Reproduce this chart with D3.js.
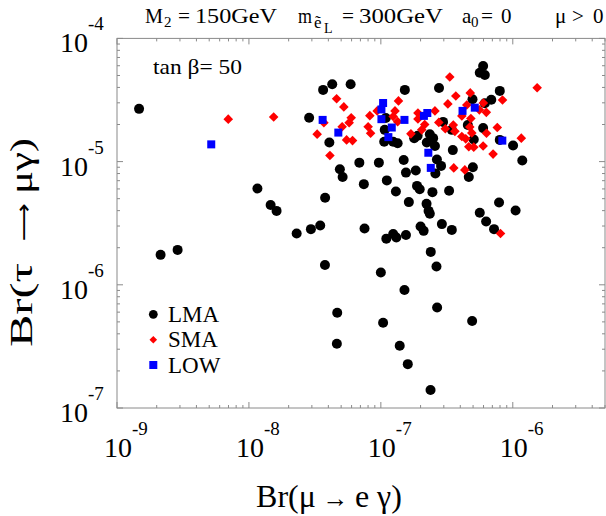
<!DOCTYPE html>
<html>
<head>
<meta charset="utf-8">
<script src="https://cdn.jsdelivr.net/npm/d3@7"></script>
<style>
html,body{margin:0;padding:0;background:#fff;}
svg{display:block;font-family:"Liberation Serif","Times New Roman",serif;}
</style>
</head>
<body>
<svg id="chart" width="606" height="516"></svg>
<script>
// ---- data (Br(mu -> e gamma), Br(tau -> mu gamma)) ----
const lmaPoints = [
[1.47e-9,2.68e-5],[2.86e-8,2.27e-5],[3.65e-8,3.82e-5],[4.28e-8,4.24e-5],[5.90e-8,4.24e-5],
[4.07e-8,1.43e-5],[4.89e-8,8.68e-6],[5.13e-8,7.51e-6],[1.16e-8,6.04e-6],[3.78e-8,5.08e-6],
[1.46e-8,4.45e-6],[1.62e-8,3.98e-6],[2.30e-8,2.61e-6],[2.95e-8,2.83e-6],[3.47e-8,3.03e-6],
[2.14e-9,1.75e-6],[2.88e-9,1.92e-6],[3.77e-8,1.45e-6],[4.67e-8,5.93e-7],[4.64e-8,3.32e-7],
[6.87e-8,9.81e-6],[9.66e-8,9.81e-6],[7.43e-8,6.56e-6],[1.11e-7,7.04e-6],[1.30e-7,5.71e-6],
[1.55e-7,8.14e-6],[1.84e-7,8.48e-6],[1.88e-7,6.35e-6],[1.97e-7,5.97e-6],[2.46e-7,5.65e-6],
[3.29e-7,5.79e-6],[2.66e-7,1.04e-5],[2.86e-7,9.23e-6],[2.59e-7,8.02e-6],[1.52e-7,3.82e-5],
[2.76e-7,3.96e-5],[5.96e-7,5.97e-5],[5.62e-7,5.27e-5],[6.14e-7,5.05e-5],[7.97e-7,3.75e-5],
[6.87e-7,3.18e-5],[4.95e-7,3.21e-5],[6.14e-7,2.98e-5],[4.56e-7,1.98e-5],[5.96e-7,1.87e-5],
[5.06e-7,1.51e-5],[3.51e-7,1.24e-5],[1.005e-6,1.35e-5],[1.18e-6,1.02e-5],[4.98e-7,9.01e-6],
[4.64e-7,7.51e-6],[7.97e-7,1.50e-5],[2.96e-7,2.10e-5],[3.45e-7,1.81e-5],[1.09e-7,2.26e-5],
[1.07e-7,1.81e-5],[1.06e-7,1.45e-5],[1.24e-7,1.45e-5],[1.34e-7,1.41e-5],[1.79e-7,1.55e-5],
[1.90e-7,1.62e-5],[2.23e-7,1.43e-5],[2.49e-7,1.55e-5],[2.57e-7,1.34e-5],[2.35e-7,1.67e-5],
[1.49e-7,1.03e-5],[1.63e-7,4.69e-6],[2.22e-7,4.54e-6],[2.30e-7,3.98e-6],[2.35e-7,3.77e-6],
[7.87e-7,4.65e-6],[1.05e-6,4.01e-6],[5.62e-7,3.84e-6],[6.28e-7,3.26e-6],[7.21e-7,2.83e-6],
[7.52e-8,2.86e-6],[1.10e-7,2.37e-6],[1.24e-7,2.58e-6],[1.31e-7,2.42e-6],[1.55e-7,2.54e-6],
[2.00e-7,2.97e-6],[2.11e-7,2.74e-6],[2.90e-7,3.11e-6],[3.45e-7,2.79e-6],[2.39e-7,1.85e-6],
[2.64e-7,1.41e-6],[1.00e-7,1.26e-6],[1.51e-7,9.06e-7],[2.67e-7,6.54e-7],[1.04e-7,4.92e-7],
[4.92e-7,5.08e-7],[1.39e-7,3.20e-7],[1.60e-7,2.27e-7],[2.38e-7,1.40e-7]
];
const smaPoints = [
[6.97e-9,2.21e-5],[1.54e-8,2.30e-5],[4.62e-8,3.24e-5],[5.24e-8,2.78e-5],[5.96e-8,2.27e-5],
[5.75e-8,2.07e-5],[5.09e-8,1.92e-5],[8.25e-8,2.36e-5],[8.01e-8,1.92e-5],[8.36e-8,1.70e-5],
[9.38e-8,2.58e-5],[3.29e-8,1.67e-5],[5.50e-8,1.50e-5],[6.10e-8,1.48e-5],[4.11e-8,1.12e-5],
[3.70e-8,2.07e-5],[1.36e-7,3.11e-5],[1.28e-7,2.58e-5],[1.24e-7,2.32e-5],[1.34e-7,2.11e-5],
[1.91e-7,2.48e-5],[1.91e-7,2.22e-5],[2.57e-7,2.58e-5],[2.15e-7,2.00e-5],[1.69e-7,1.68e-5],
[2.04e-7,1.81e-5],[2.75e-7,2.08e-5],[3.08e-7,1.85e-5],[3.33e-7,4.86e-5],[3.70e-7,3.41e-5],
[4.76e-7,3.61e-5],[8.36e-7,3.16e-5],[3.22e-7,2.94e-5],[4.48e-7,2.88e-5],[5.98e-7,2.99e-5],
[5.58e-7,2.63e-5],[6.30e-7,2.51e-5],[4.11e-7,2.35e-5],[4.81e-7,2.24e-5],[3.54e-7,1.98e-5],
[3.64e-7,1.76e-5],[4.72e-7,1.91e-5],[4.89e-7,1.71e-5],[4.11e-7,1.60e-5],[4.40e-7,1.53e-5],
[6.32e-7,1.70e-5],[7.63e-7,1.89e-5],[1.16e-6,1.55e-5],[4.64e-7,1.32e-5],[5.06e-7,1.31e-5],
[5.96e-7,1.34e-5],[7.09e-7,1.15e-5],[3.57e-7,8.89e-6],[4.33e-7,8.56e-6],[1.53e-6,3.98e-5],
[8.07e-7,2.61e-6]
];
const lowPoints = [
[5.18e-9,1.38e-5],[3.62e-8,2.18e-5],[4.76e-8,1.72e-5],[1.04e-7,2.99e-5],[1.01e-7,2.65e-5],
[1.01e-7,2.21e-5],[1.21e-7,1.89e-5],[1.14e-7,1.58e-5],[1.51e-7,2.18e-5],[2.12e-7,2.35e-5],
[2.25e-7,2.48e-5],[2.29e-7,1.18e-5],[2.39e-7,8.89e-6],[4.16e-7,2.58e-5],[5.15e-7,2.74e-5],
[8.33e-7,1.48e-5]
];
const xTickExponents = [-9, -8, -7, -6];
const yTickExponents = [-4, -5, -6, -7];
const legendLabels = ["LMA", "SMA", "LOW"];

// ---- layout ----
const svg = d3.select("#chart");
const X0 = 117, X1 = 605, Y0 = 408, Y1 = 38.4;
const x = d3.scaleLog().domain([1e-9, 5e-6]).range([X0, X1]);
const y = d3.scaleLog().domain([1e-7, 1e-4]).range([Y0, Y1]);
const frameColor = "#8a8a8a";

// frame
svg.append("rect").attr("x", X0).attr("y", Y1).attr("width", X1 - X0).attr("height", Y0 - Y1)
  .attr("fill", "none").attr("stroke", frameColor).attr("stroke-width", 1);

const isMajor = v => Math.abs(Math.log10(v) - Math.round(Math.log10(v))) < 1e-6;
const tg = svg.append("g").attr("stroke", frameColor).attr("stroke-width", 1);
x.ticks().forEach(v => {
  const px = x(v), L = isMajor(v) ? 6 : 3;
  tg.append("line").attr("x1", px).attr("x2", px).attr("y1", Y0).attr("y2", Y0 - L);
  tg.append("line").attr("x1", px).attr("x2", px).attr("y1", Y1).attr("y2", Y1 + L);
});
y.ticks().forEach(v => {
  const py = y(v), L = isMajor(v) ? 6 : 3;
  tg.append("line").attr("x1", X0).attr("x2", X0 + L).attr("y1", py).attr("y2", py);
  tg.append("line").attr("x1", X1).attr("x2", X1 - L).attr("y1", py).attr("y2", py);
});

// tick labels
xTickExponents.forEach(e => {
  const t = svg.append("text").attr("x", x(Math.pow(10, e)) - 13).attr("y", 457)
    .attr("font-size", 28).attr("fill", "#000");
  t.append("tspan").text("10");
  t.append("tspan").attr("dy", -22).attr("font-size", 19).text(String(e));
});
yTickExponents.forEach(e => {
  const t = svg.append("text").attr("x", 60).attr("y", y(Math.pow(10, e)) + 14)
    .attr("font-size", 28).attr("fill", "#000");
  t.append("tspan").text("10");
  t.append("tspan").attr("dy", -22).attr("font-size", 19).text(String(e));
});

// axis titles
const xt1 = svg.append("text").attr("x", 329).attr("y", 507).attr("text-anchor", "middle")
  .attr("font-size", 32).attr("fill", "#000");
xt1.append("tspan").text("Br(μ");
xt1.append("tspan").attr("font-size", 26).text(" → ");
xt1.append("tspan").text("e γ)");

const yg = svg.append("g").attr("transform", "translate(32,0) rotate(-90)")
  .attr("font-size", 32).attr("fill", "#000");
yg.append("text").attr("x", -347).attr("y", 0).attr("textLength", 84)
  .attr("lengthAdjust", "spacingAndGlyphs").text("Br(τ");
yg.append("text").attr("x", -241).attr("y", -1).attr("font-size", 22)
  .attr("font-family", "DejaVu Sans").attr("textLength", 38)
  .attr("lengthAdjust", "spacingAndGlyphs").text("⟶");
yg.append("text").attr("x", -194).attr("y", 0).attr("textLength", 56)
  .attr("lengthAdjust", "spacingAndGlyphs").text("μγ)");

// header
const hfs = 21;
const hdr = svg.append("g").attr("font-size", hfs).attr("fill", "#000");
const put = (s, px, py, fs, tl) => {
  const t = hdr.append("text").attr("x", px).attr("y", py).text(s);
  if (fs) t.attr("font-size", fs);
  if (tl) t.attr("textLength", tl).attr("lengthAdjust", "spacingAndGlyphs");
  return t;
};
put("M", 145, 23, null, 18);
put("2", 164, 27, 15);
put("=", 178, 23, null, 12);
put("150GeV", 195, 23, null, 82);
put("m", 298, 23, null, 14);
put("ẽ", 314, 28, 17);
put("L", 324, 33, 14);
put("=", 342, 23, null, 12);
put("300GeV", 359, 23, null, 84);
put("a", 462, 23);
put("0", 471, 27, 15);
put("=", 481, 23, null, 12);
put("0", 501, 23);
put("μ", 555, 23);
put(">", 572, 23);
put("0", 593, 23);

svg.append("text").attr("x", 153).attr("y", 74).attr("font-size", 21)
  .attr("textLength", 89).attr("lengthAdjust", "spacingAndGlyphs").text("tan β= 50");

// markers
const plot = svg.append("g");
plot.selectAll("circle.lma").data(lmaPoints).join("circle").attr("class", "lma")
  .attr("cx", d => x(d[0])).attr("cy", d => y(d[1])).attr("r", 5).attr("fill", "#000");
const diamond = (cx, cy, r) => `M${cx},${cy - r}L${cx + r},${cy}L${cx},${cy + r}L${cx - r},${cy}Z`;
plot.selectAll("path.sma").data(smaPoints).join("path").attr("class", "sma")
  .attr("d", d => diamond(x(d[0]), y(d[1]), 4.8)).attr("fill", "#ff0000");
plot.selectAll("rect.low").data(lowPoints).join("rect").attr("class", "low")
  .attr("x", d => x(d[0]) - 4).attr("y", d => y(d[1]) - 4).attr("width", 8).attr("height", 8)
  .attr("fill", "#0000ff");

// legend
const lg = svg.append("g");
const ly = [314.3, 339.7, 365];
lg.append("circle").attr("cx", 153.3).attr("cy", ly[0]).attr("r", 4.4).attr("fill", "#000");
lg.append("path").attr("d", diamond(153.3, ly[1], 3.8)).attr("fill", "#ff0000");
lg.append("rect").attr("x", 149.3).attr("y", ly[2] - 4).attr("width", 8).attr("height", 8).attr("fill", "#0000ff");
legendLabels.forEach((s, i) => {
  lg.append("text").attr("x", 168).attr("y", ly[i] + 7.5).attr("font-size", 23).text(s);
});
</script>
</body>
</html>
